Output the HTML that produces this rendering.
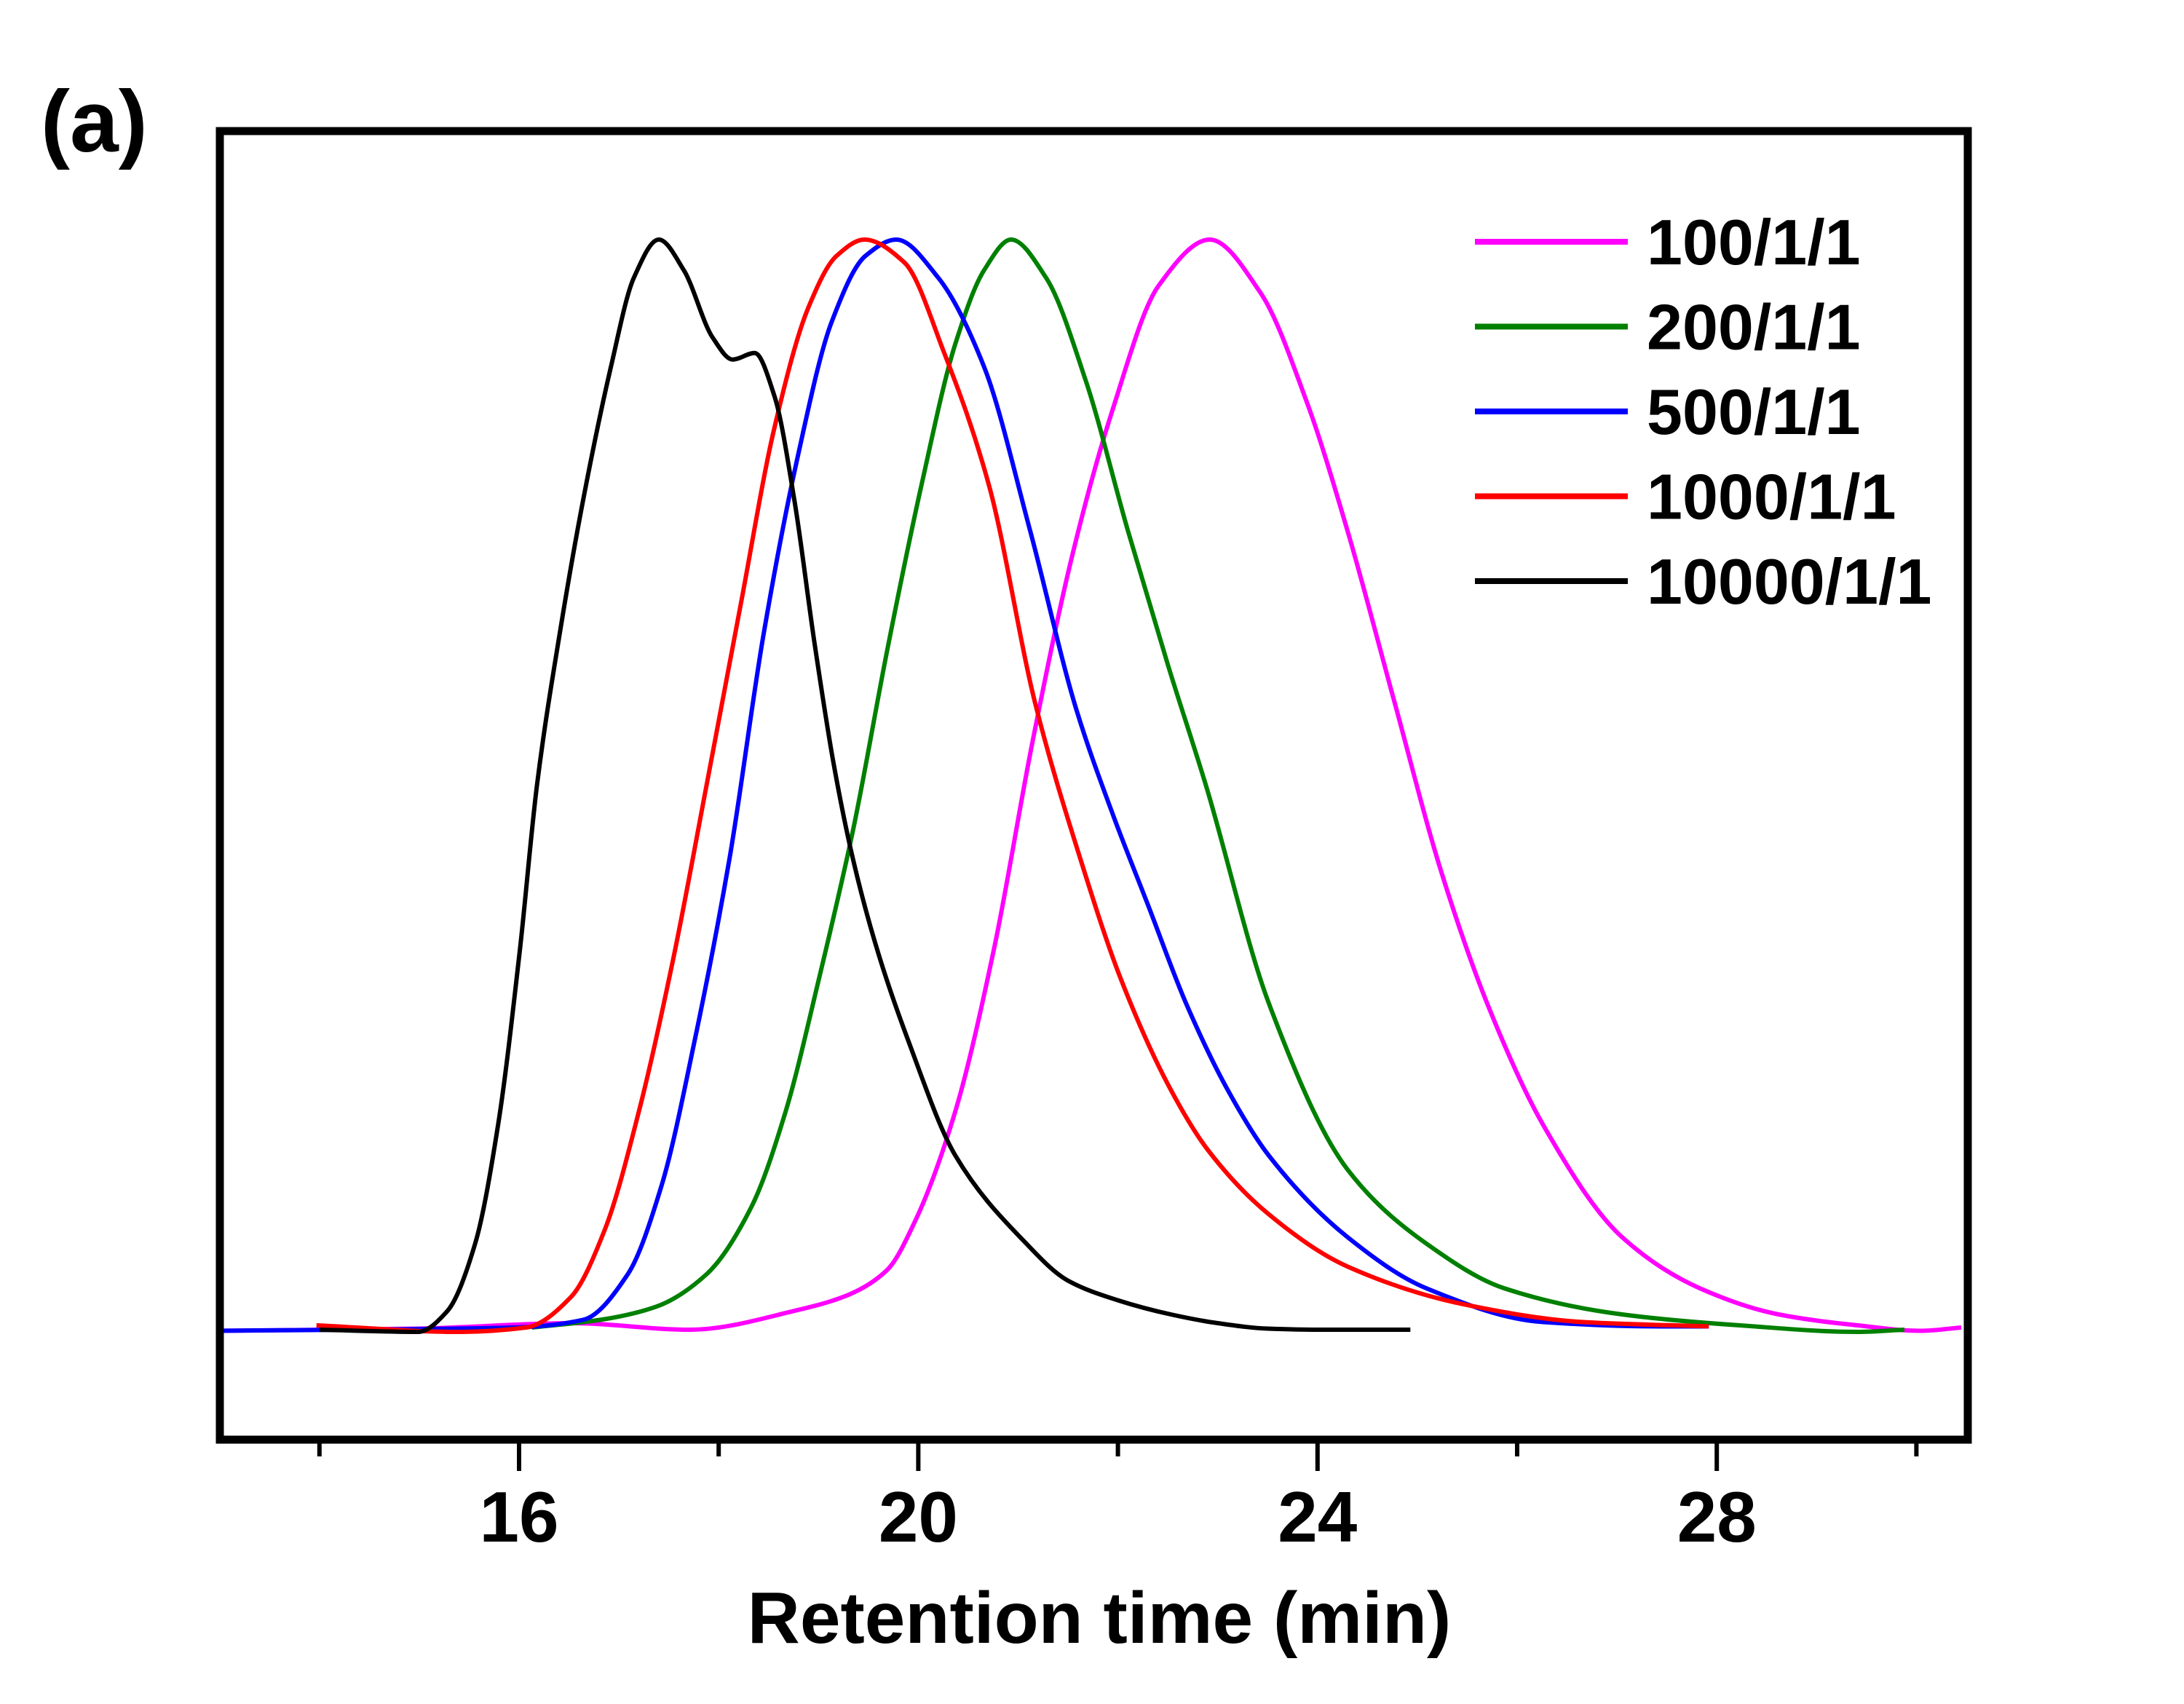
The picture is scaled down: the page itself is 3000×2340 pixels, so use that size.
<!DOCTYPE html>
<html><head><meta charset="utf-8"><style>
html,body{margin:0;padding:0;background:#fff;}
svg{display:block;font-family:"Liberation Sans",Arial,sans-serif;font-weight:bold;}
</style></head><body>
<svg id="chart" width="3000" height="2340" viewBox="0 0 3000 2340" xmlns="http://www.w3.org/2000/svg">
<rect width="3000" height="2340" fill="#fff"/>
<text x="56" y="208" font-size="120">(a)</text>
<g id="plot"></g>
<rect x="302" y="180" width="2401" height="1797" fill="none" stroke="#000" stroke-width="11"/>
<g id="axis"></g>
<text x="1510" y="2256" font-size="100" text-anchor="middle">Retention time (min)</text>
<g id="legend"></g>
</svg>
<script>
const seriesNames = ["100/1/1","200/1/1","500/1/1","1000/1/1","10000/1/1"];
const seriesColors = ["#ff00ff","#008000","#0000ff","#ff0000","#000000"];
const tMagenta = [13.0,15.0,16.52,17.71,18.79,19.3,19.69,19.97,20.37,20.76,21.15,21.55,21.94,22.41,22.92,23.43,23.9,24.3,24.77,25.24,25.71,26.26,27.05,27.83,28.62,29.41,30.04,30.45];
const vMagenta = [-0.001,0.001,0.006,0.0,0.018,0.032,0.055,0.1,0.2,0.35,0.542,0.713,0.842,0.958,1,0.951,0.849,0.733,0.576,0.42,0.297,0.188,0.085,0.038,0.014,0.004,-0.001,0.002];
const tGreen = [16.13,16.81,17.37,17.88,18.33,18.67,19.01,19.35,19.69,20.03,20.37,20.66,20.93,21.28,21.68,22.1,22.5,22.88,23.51,24.3,25.09,25.87,27.05,28.23,29.41,29.88];
const vGreen = [0.002,0.009,0.021,0.051,0.113,0.2,0.324,0.46,0.624,0.774,0.904,0.972,1,0.965,0.87,0.733,0.61,0.5,0.30,0.147,0.079,0.038,0.014,0.004,-0.002,0];
const tBlue = [13.0,15.96,16.64,17.09,17.43,17.77,18.11,18.45,18.79,19.13,19.47,19.78,20.2,20.66,21.12,21.58,21.96,22.3,22.68,23.1,23.51,24.3,25.09,26.26,27.44,27.92];
const vBlue = [-0.001,0.002,0.009,0.051,0.133,0.27,0.433,0.638,0.8,0.924,0.985,1,0.965,0.883,0.733,0.57,0.47,0.39,0.30,0.22,0.16,0.085,0.038,0.007,0.003,0.003];
const tRed = [13.97,15.39,16.07,16.52,16.86,17.2,17.54,17.88,18.22,18.56,18.9,19.18,19.46,19.86,20.26,20.71,21.17,21.62,22.02,22.53,22.9,23.51,24.3,25.48,26.66,27.92];
const vRed = [0.004,-0.002,0.002,0.03,0.092,0.2,0.338,0.5,0.665,0.828,0.938,0.985,1,0.979,0.896,0.774,0.575,0.433,0.324,0.22,0.165,0.106,0.058,0.023,0.007,0.003];
const tBlack = [14.0,14.99,15.28,15.56,15.79,16.01,16.18,16.41,16.64,16.92,17.15,17.4,17.65,17.94,18.14,18.36,18.56,18.76,18.96,19.15,19.35,19.6,19.9,20.37,21.05,21.5,22.0,22.53,23.0,23.5,24.0,24.93];
const vBlack = [0,-0.002,0.017,0.079,0.188,0.35,0.5,0.64,0.76,0.883,0.965,1,0.972,0.91,0.89,0.896,0.856,0.76,0.63,0.52,0.43,0.345,0.265,0.16,0.082,0.045,0.027,0.014,0.006,0.001,0,0];
const tickValues = [14,16,18,20,22,24,26,28,30];
const tickLabels = ["","16","","20","","24","","28",""];

const NS = "http://www.w3.org/2000/svg";
const xS = t => 713 + (t - 16) * 137.1;
const yS = v => 1826 - v * 1497;
const plot = document.getElementById('plot');
const allT = [tMagenta,tGreen,tBlue,tRed,tBlack];
const allV = [vMagenta,vGreen,vBlue,vRed,vBlack];
const slugs = ["100-1-1","200-1-1","500-1-1","1000-1-1","10000-1-1"];

function monotonePath(xs, ys){
  const n = xs.length, d = [], m = new Array(n);
  for (let i=0;i<n-1;i++) d.push((ys[i+1]-ys[i])/(xs[i+1]-xs[i]));
  m[0]=d[0]; m[n-1]=d[n-2];
  for (let i=1;i<n-1;i++){
    if (d[i-1]*d[i] <= 0) m[i]=0;
    else { const w1=2*(xs[i+1]-xs[i])+(xs[i]-xs[i-1]), w2=(xs[i+1]-xs[i])+2*(xs[i]-xs[i-1]);
      m[i]=(w1+w2)/(w1/d[i-1]+w2/d[i]); }
  }
  let path = "M"+xS(xs[0]).toFixed(1)+","+yS(ys[0]).toFixed(1);
  for (let i=0;i<n-1;i++){
    const h = xs[i+1]-xs[i];
    const c1x = xs[i]+h/3, c1y = ys[i]+m[i]*h/3;
    const c2x = xs[i+1]-h/3, c2y = ys[i+1]-m[i+1]*h/3;
    path += " C"+xS(c1x).toFixed(1)+","+yS(c1y).toFixed(1)+" "+xS(c2x).toFixed(1)+","+yS(c2y).toFixed(1)+" "+xS(xs[i+1]).toFixed(1)+","+yS(ys[i+1]).toFixed(1);
  }
  return path;
}
for (let s = 0; s < 5; s++) {
  const path = document.createElementNS(NS,'path');
  path.setAttribute('d',monotonePath(allT[s], allV[s]));
  path.setAttribute('fill','none');
  path.setAttribute('stroke',seriesColors[s]);
  path.setAttribute('stroke-width','6');
  path.setAttribute('stroke-linejoin','round');
  
  
  plot.appendChild(path);
}
const axis = document.getElementById('axis');
tickValues.forEach((t,i)=>{
  const major = tickLabels[i] !== "";
  const ln = document.createElementNS(NS,'line');
  ln.setAttribute('x1',xS(t)); ln.setAttribute('x2',xS(t));
  ln.setAttribute('y1',1977); ln.setAttribute('y2', major ? 2020 : 2000);
  ln.setAttribute('stroke','#000'); ln.setAttribute('stroke-width','6');
  
  
  axis.appendChild(ln);
  if (major) {
    const tx = document.createElementNS(NS,'text');
    tx.setAttribute('x',xS(t)); tx.setAttribute('y',2117);
    tx.setAttribute('font-size','98'); tx.setAttribute('text-anchor','middle');
    tx.textContent = tickLabels[i];
    
    
    axis.appendChild(tx);
  }
});
const legend = document.getElementById('legend');
seriesNames.forEach((n,i)=>{
  const y = 332 + i*116.5;
  const ln = document.createElementNS(NS,'line');
  ln.setAttribute('x1',2026); ln.setAttribute('x2',2236);
  ln.setAttribute('y1',y); ln.setAttribute('y2',y);
  ln.setAttribute('stroke',seriesColors[i]); ln.setAttribute('stroke-width','8');
  
  
  legend.appendChild(ln);
  const tx = document.createElementNS(NS,'text');
  tx.setAttribute('x',2262); tx.setAttribute('y',y+31);
  tx.setAttribute('font-size','88');
  tx.textContent = n;
  
  
  legend.appendChild(tx);
});
</script>
</body></html>
